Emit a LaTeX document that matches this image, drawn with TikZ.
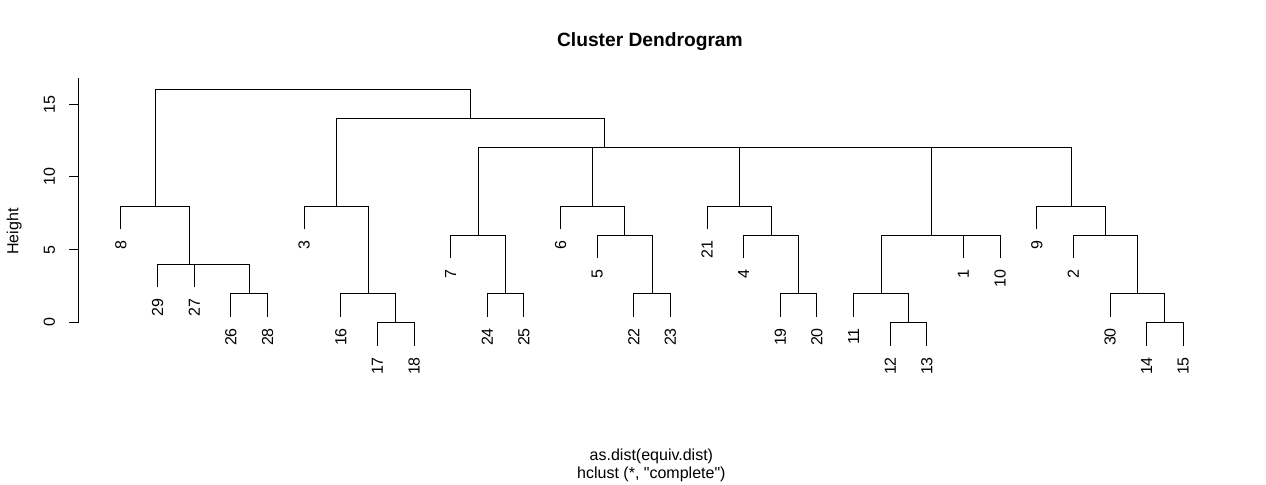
\documentclass[tikz,border=0pt]{standalone}
\usepackage{fontspec}
\setmainfont{Liberation Sans}
\usepackage{tikz}
\usetikzlibrary{calc}

\begin{document}
\begin{tikzpicture}[
    x=27.47pt, y=10.9pt,
    branch/.style={line width=0.75pt, black},
    leaf/.style={rotate=90, anchor=east, inner sep=0pt, font=\fontsize{12}{14}\selectfont},
    ticklabel/.style={rotate=90, anchor=base, inner sep=0pt, font=\fontsize{12}{14}\selectfont},
    caption/.style={anchor=base, inner sep=0pt, font=\fontsize{12}{14}\selectfont},
    heading/.style={anchor=base, inner sep=0pt, font=\fontsize{14.4}{17}\selectfont\bfseries}
]
\path[fill=white, use as bounding box] (-2.303,-11.127) rectangle (32.259,22.177);

% titles
\node[heading] (title) at (15.44,18.96) {Cluster Dendrogram};
\node[caption] (distname) at (15.48,-9.475) {as.dist(equiv.dist)};
\node[caption] (method) at (15.48,-10.73) {hclust (*, \textquotedbl complete\textquotedbl)};
\node[ticklabel] (ylab) at (-1.804,6.25) {Height};

% height axis
\coordinate (axbot) at (-0.155,0);
\coordinate (axtop) at (-0.155,16.81);
\draw[branch] (axbot) -- (axtop);
\foreach \v in {0,5,10,15} {
    \coordinate (tick\v) at (-0.155,\v);
    \draw[branch] (tick\v) -- ++(-0.256,0);
    \node[ticklabel] (tl\v) at (-0.802,\v) {\v};
}

% leaves: position / label / end height
\foreach \i/\t/\h in {1/8/6.4, 2/29/2.4, 3/27/2.4, 4/26/0.4, 5/28/0.4, 6/3/6.4,
    7/16/0.4, 8/17/-1.6, 9/18/-1.6, 10/7/4.4, 11/24/0.4, 12/25/0.4, 13/6/6.4,
    14/5/4.4, 15/22/0.4, 16/23/0.4, 17/21/6.4, 18/4/4.4, 19/19/0.4, 20/20/0.4,
    21/11/0.4, 22/12/-1.6, 23/13/-1.6, 24/1/4.4, 25/10/4.4, 26/9/6.4, 27/2/4.4,
    28/30/0.4, 29/14/-1.6, 30/15/-1.6} {
    \coordinate (l\t) at (\i,\h);
    \node[leaf] (t\t) at ([yshift=-8.5pt]l\t) {\t};
}

% merges
\coordinate (m2628) at (4.5,2);
\coordinate (m27) at (3.75,4);
\coordinate (m29) at (2.875,4);
\coordinate (m8) at (1.9375,8);
\coordinate (m1718) at (8.5,0);
\coordinate (m16) at (7.75,2);
\coordinate (m3) at (6.875,8);
\coordinate (m2425) at (11.5,2);
\coordinate (m7) at (10.75,6);
\coordinate (m2223) at (15.5,2);
\coordinate (m5) at (14.75,6);
\coordinate (m6) at (13.875,8);
\coordinate (m1920) at (19.5,2);
\coordinate (m4) at (18.75,6);
\coordinate (m21) at (17.875,8);
\coordinate (m1213) at (22.5,0);
\coordinate (m11) at (21.75,2);
\coordinate (m110) at (24.5,6);
\coordinate (m111) at (23.125,6);
\coordinate (m1415) at (29.5,0);
\coordinate (m30) at (28.75,2);
\coordinate (m2) at (27.875,6);
\coordinate (m9) at (26.9375,8);
\coordinate (m12a) at (25.03125,12);
\coordinate (m12b) at (21.453125,12);
\coordinate (m12c) at (17.6640625,12);
\coordinate (m12d) at (14.20703125,12);
\coordinate (m14) at (10.541015625,14);
\coordinate (root) at (6.2392578125,16);

\draw[branch] (l26) |- (m2628) -| (l28);
\draw[branch] (l27) |- (m27) -| (m2628);
\draw[branch] (l29) |- (m29) -| (m27);
\draw[branch] (l8) |- (m8) -| (m29);
\draw[branch] (l17) |- (m1718) -| (l18);
\draw[branch] (l16) |- (m16) -| (m1718);
\draw[branch] (l3) |- (m3) -| (m16);
\draw[branch] (l24) |- (m2425) -| (l25);
\draw[branch] (l7) |- (m7) -| (m2425);
\draw[branch] (l22) |- (m2223) -| (l23);
\draw[branch] (l5) |- (m5) -| (m2223);
\draw[branch] (l6) |- (m6) -| (m5);
\draw[branch] (l19) |- (m1920) -| (l20);
\draw[branch] (l4) |- (m4) -| (m1920);
\draw[branch] (l21) |- (m21) -| (m4);
\draw[branch] (l12) |- (m1213) -| (l13);
\draw[branch] (l11) |- (m11) -| (m1213);
\draw[branch] (l1) |- (m110) -| (l10);
\draw[branch] (m11) |- (m111) -| (m110);
\draw[branch] (l14) |- (m1415) -| (l15);
\draw[branch] (l30) |- (m30) -| (m1415);
\draw[branch] (l2) |- (m2) -| (m30);
\draw[branch] (l9) |- (m9) -| (m2);
\draw[branch] (m111) |- (m12a) -| (m9);
\draw[branch] (m21) |- (m12b) -| (m12a);
\draw[branch] (m6) |- (m12c) -| (m12b);
\draw[branch] (m7) |- (m12d) -| (m12c);
\draw[branch] (m3) |- (m14) -| (m12d);
\draw[branch] (m8) |- (root) -| (m14);

\end{tikzpicture}
\end{document}
